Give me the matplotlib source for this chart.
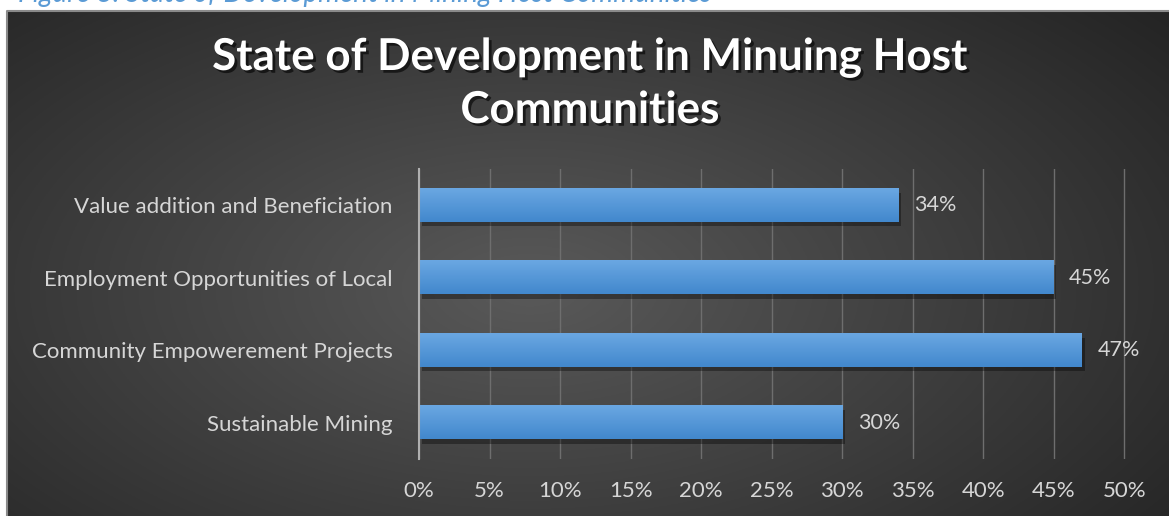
import numpy as np
import matplotlib
matplotlib.use("Agg")
import matplotlib.pyplot as plt
from matplotlib import patheffects as pe

categories = ["Sustainable Mining", "Community Empowerement Projects",
              "Employment Opportunities of Local", "Value addition and Beneficiation"]
values = [30, 47, 45, 34]
xticks = [0, 5, 10, 15, 20, 25, 30, 35, 40, 45, 50]
xtick_labels = [f"{t}%" for t in xticks]
title_lines = ["State of Development in Minuing Host", "Communities"]
caption = "Figure 8: State of Development in Mining Host Communities"

W, H, DPI = 1169, 516, 100
fig = plt.figure(figsize=(W / DPI, H / DPI), dpi=DPI)
fig.patch.set_facecolor("white")
renderer = fig.canvas.get_renderer()


def fit_width(txt, width_px):
    """Scale a text's font size so that it spans the given width in pixels."""
    w = txt.get_window_extent(renderer).width
    txt.set_fontsize(txt.get_fontsize() * width_px / w)


# dark panel with a radial gradient
px0, py1 = 7 / W, (H - 10) / H
bg = fig.add_axes([px0, 0, 1 - px0, py1])
bg.set_axis_off()
yy, xx = np.mgrid[0:1:300j, 0:1:600j]
r = np.sqrt(((xx - 0.45) / 0.75) ** 2 + ((yy - 0.45) / 0.9) ** 2)
shade = np.clip(0.35 - 0.22 * r, 0.12, 0.36)
img = np.dstack([shade, shade, shade])
bg.imshow(img, extent=[0, 1, 0, 1], aspect="auto", origin="lower")
bg.set_xlim(0, 1)
bg.set_ylim(0, 1)
bg.plot([0, 0, 1], [0, 0.998, 0.998], color="#8a8a8a", lw=1.5, transform=bg.transAxes, clip_on=False)

# caption sitting above the panel, partly outside the page
cap = fig.text(18 / W, 1.0 - 2 / H, caption, color="#5b9bd5", fontsize=16, fontstyle="italic",
               family="Lato", va="baseline", ha="left")
fit_width(cap, 695)

ax = fig.add_axes([419 / W, (H - 459) / H, (1127 - 419) / W, (459 - 169) / H])
ax.set_facecolor("none")
ypos = np.arange(len(categories))
bars = ax.barh(ypos, values, height=0.46, color="#5b9bd5", zorder=3,
               path_effects=[pe.SimplePatchShadow(offset=(2, -3), shadow_rgbFace="black", alpha=0.35),
                             pe.Normal()])
# vertical shading on each bar
grad = np.linspace(0, 1, 50).reshape(-1, 1)
cmap = matplotlib.colors.LinearSegmentedColormap.from_list("bar", ["#4288cd", "#6aa7e2"])
for yv, v in zip(ypos, values):
    ax.imshow(grad, extent=[0, v, yv - 0.23, yv + 0.23], cmap=cmap, aspect="auto",
              origin="lower", zorder=4)
    ax.text(v + 1.1, yv, f"{v}%", color="#d6d6d6", fontsize=15.5, family="Lato",
            va="center", ha="left", zorder=5)

ax.set_xlim(0, 50.2)
ax.set_ylim(-0.5, len(categories) - 0.5)
ax.set_xticks(xticks)
ax.set_xticklabels(xtick_labels)
ax.set_yticks(ypos)
ax.set_yticklabels(categories)
ax.grid(axis="x", color="#6e6e6e", lw=1, zorder=0)
ax.tick_params(axis="both", length=0, colors="#d6d6d6", labelsize=16)
ax.tick_params(axis="x", pad=16)
ax.tick_params(axis="y", pad=19)
for lab in ax.get_xticklabels() + ax.get_yticklabels():
    lab.set_family("Lato")
for s in ["top", "right", "bottom"]:
    ax.spines[s].set_visible(False)
ax.spines["left"].set_color("#b0b0b0")
ax.spines["left"].set_linewidth(1.5)
ax.spines["left"].set_zorder(6)

title_fx = [pe.withSimplePatchShadow(offset=(2, -2), shadow_rgbFace="black", alpha=0.6)]
t1 = fig.text(590 / W, 1 - 70 / H, title_lines[0], color="white", fontsize=30, fontweight="bold",
              family="Lato", ha="center", va="baseline", path_effects=title_fx)
fit_width(t1, 755)
fig.text(590 / W, 1 - 123 / H, title_lines[1], color="white", fontsize=t1.get_fontsize(),
         fontweight="bold", family="Lato", ha="center", va="baseline", path_effects=title_fx)

fig.savefig("out.png", dpi=DPI)
